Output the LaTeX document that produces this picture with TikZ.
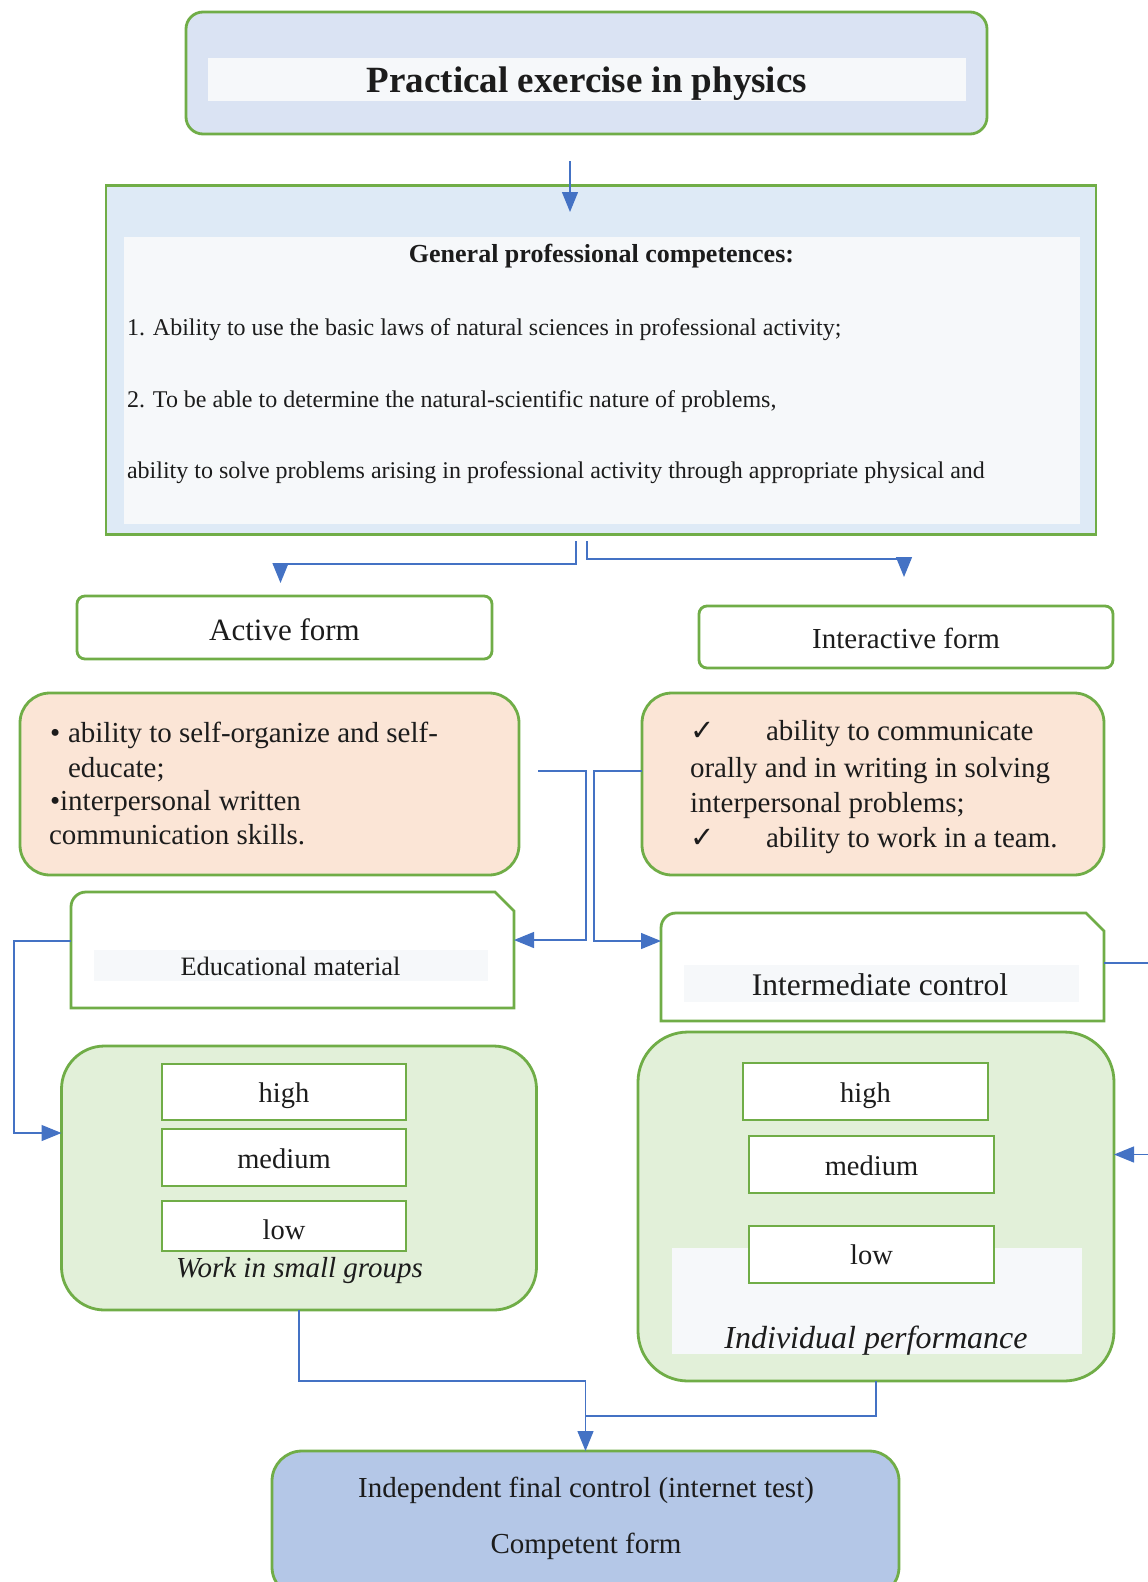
\documentclass[tikz,border=0pt]{standalone}
\usepackage{fontspec}
\setmainfont{Liberation Serif}
\newfontfamily\dejavu{DejaVu Sans}
\usetikzlibrary{arrows.meta,calc}
\definecolor{gborder}{HTML}{70AD47}
\definecolor{conn}{HTML}{4472C4}
\definecolor{topfill}{HTML}{DAE3F3}
\definecolor{genfill}{HTML}{DEEAF6}
\definecolor{stripc}{HTML}{F6F8FA}
\definecolor{pinkc}{HTML}{FBE5D6}
\definecolor{lgreen}{HTML}{E2F0D9}
\definecolor{finalfill}{HTML}{B4C7E7}
\definecolor{txt}{HTML}{1C1C1C}
\tikzset{
  gbox/.style={draw=gborder, line width=2.8pt, inner sep=0pt, outer sep=0pt},
  ghost/.style={inner sep=0pt, outer sep=0pt},
  conline/.style={draw=conn, line width=1.3pt},
  arr/.style={conline, -{Triangle[length=20pt,width=16pt]}},
  lvlbox/.style={gbox, fill=white, minimum height=56pt},
  tx/.style={inner sep=0pt, outer sep=0pt, text=txt},
  fsA/.style={tx, font=\fontsize{29}{34}\selectfont},
  chk/.style={tx, font=\dejavu\fontsize{29}{34}\selectfont},
}
\begin{document}
\begin{tikzpicture}[x=1pt,y=-1pt]
\useasboundingbox (0,0) rectangle (1148,1582);
\clip (0,0) rectangle (1148,1582);
\fill[white] (0,0) rectangle (1148,1582);

% top title box
\node[gbox, rounded corners=17pt, fill=topfill, minimum width=801pt, minimum height=122pt] (top) at (586.5,73) {};
\fill[stripc] (208,58) rectangle (966,101);
\node[tx, anchor=base, font=\bfseries\fontsize{37}{40}\selectfont] (titletxt) at (587,92) {Practical exercise in physics};

% general competences box
\node[gbox, fill=genfill, minimum width=990pt, minimum height=349pt] (gen) at (601,360) {};
\fill[stripc] (123.5,237) rectangle (1080,524);
\node[tx, anchor=base, font=\bfseries\fontsize{26}{30}\selectfont] (gph) at (601.5,262) {General professional competences:};
\node[tx, anchor=base west, font=\fontsize{24}{28}\selectfont] (gl1) at (127,335) {1. Ability to use the basic laws of natural sciences in professional activity;};
\node[tx, anchor=base west, font=\fontsize{24}{28}\selectfont] (gl2) at (127,407) {2. To be able to determine the natural-scientific nature of problems,};
\node[tx, anchor=base west, font=\fontsize{24}{28}\selectfont] (gl3) at (127,478) {ability to solve problems arising in professional activity through appropriate physical and};

% forms
\node[gbox, rounded corners=8pt, fill=white, minimum width=415pt, minimum height=63pt] (active) at (284.5,627.5) {};
\node[tx, anchor=base, font=\fontsize{31}{36}\selectfont] (activetxt) at (284.5,640) {Active form};
\node[gbox, rounded corners=8pt, fill=white, minimum width=414pt, minimum height=62pt] (interf) at (906,637) {};
\node[tx, anchor=base, font=\fontsize{29}{34}\selectfont] (interftxt) at (906,648) {Interactive form};

% pink boxes
\node[gbox, rounded corners=30pt, fill=pinkc, minimum width=499pt, minimum height=182pt] (lpink) at (269.5,784) {};
\node[fsA, anchor=base west] (lp1b) at (50,742) {•};
\node[fsA, anchor=base west] (lp1) at (68,742) {ability to self-organize and self-};
\node[fsA, anchor=base west] (lp2) at (68,777) {educate;};
\node[fsA, anchor=base west] (lp3) at (50,810) {•interpersonal written};
\node[fsA, anchor=base west] (lp4) at (49,844) {communication skills.};

\node[gbox, rounded corners=30pt, fill=pinkc, minimum width=462pt, minimum height=182pt] (rpink) at (873,784) {};
\node[chk, anchor=base west] (rp1c) at (690,740) {✓};
\node[fsA, anchor=base west] (rp1) at (766,740) {ability to communicate};
\node[fsA, anchor=base west] (rp2) at (690,777) {orally and in writing in solving};
\node[fsA, anchor=base west] (rp3) at (690,812) {interpersonal problems;};
\node[chk, anchor=base west] (rp4c) at (690,847) {✓};
\node[fsA, anchor=base west] (rp4) at (766,847) {ability to work in a team.};

% educational material (snip + round corner)
\node[ghost, minimum width=443pt, minimum height=116pt] (edu) at (292.5,950) {};
\draw[draw=gborder, line width=2.8pt, fill=white] (71,1008) -- (71,907) .. controls (71,898.7) and (77.7,892) .. (86,892) -- (495,892) -- (514,911) -- (514,1008) -- cycle;
\fill[stripc] (94,950) rectangle (488,981);
\node[tx, anchor=base, font=\fontsize{26.5}{30}\selectfont] (edutxt) at (290.5,975) {Educational material};

% intermediate control
\node[ghost, minimum width=443pt, minimum height=108pt] (interc) at (882.5,967) {};
\draw[draw=gborder, line width=2.8pt, fill=white] (661,1021) -- (661,928) .. controls (661,919.7) and (667.7,913) .. (676,913) -- (1086,913) -- (1104,931) -- (1104,1021) -- cycle;
\fill[stripc] (684,965) rectangle (1079,1002);
\node[tx, anchor=base, font=\fontsize{31.5}{36}\selectfont] (interctxt) at (880,995) {Intermediate control};

% left green box
\node[gbox, rounded corners=43pt, fill=lgreen, minimum width=475pt, minimum height=264pt] (g1) at (299,1178) {};
\node[lvlbox, minimum width=244pt, minimum height=56pt] (g1h) at (284,1092) {};
\node[lvlbox, minimum width=244pt, minimum height=57pt] (g1m) at (284,1157.5) {};
\node[lvlbox, minimum width=244pt, minimum height=50pt] (g1l) at (284,1226) {};
\node[tx, anchor=base, font=\fontsize{28.5}{34}\selectfont] (g1ht) at (284,1102) {high};
\node[tx, anchor=base, font=\fontsize{28.5}{34}\selectfont] (g1mt) at (284,1168) {medium};
\node[tx, anchor=base, font=\fontsize{28.5}{34}\selectfont] (g1lt) at (284,1239) {low};
\node[tx, anchor=base, font=\itshape\fontsize{29}{34}\selectfont] (g1cap) at (299.5,1277) {Work in small groups};

% right green box
\node[gbox, rounded corners=50pt, fill=lgreen, minimum width=476pt, minimum height=349pt] (g2) at (876,1206.5) {};
\fill[stripc] (672,1248) rectangle (1082,1354);
\node[lvlbox, minimum width=245pt, minimum height=57pt] (g2h) at (865.5,1091.5) {};
\node[lvlbox, minimum width=245pt, minimum height=57pt] (g2m) at (871.5,1164.5) {};
\node[lvlbox, minimum width=245pt, minimum height=57pt] (g2l) at (871.5,1254.5) {};
\node[tx, anchor=base, font=\fontsize{28.5}{34}\selectfont] (g2ht) at (865.5,1102) {high};
\node[tx, anchor=base, font=\fontsize{28.5}{34}\selectfont] (g2mt) at (871.5,1175) {medium};
\node[tx, anchor=base, font=\fontsize{28.5}{34}\selectfont] (g2lt) at (871.5,1264) {low};
\begin{scope}
\clip (672,1248) rectangle (1082,1354);
\node[tx, anchor=base, font=\itshape\fontsize{32}{36}\selectfont] (g2cap) at (876,1348) {Individual performance};
\end{scope}

% final box
\node[gbox, rounded corners=30pt, fill=finalfill, minimum width=627pt, minimum height=146pt] (final) at (585.5,1524) {};
\node[fsA, anchor=base] (fin1) at (586,1497) {Independent final control (internet test)};
\node[fsA, anchor=base] (fin2) at (586,1553) {Competent form};

% connectors
\coordinate (a0s) at (570,161);
\coordinate (a0e) at (570,212);
\draw[arr] (a0s) -- (a0e);

\coordinate (cL) at (576,541);
\coordinate (cR) at (587,541);
\draw[arr] (cL) -- ++(0,23) -| ([shift={(-4,-13)}]active.north);
\draw[arr] (cR) -- ++(0,18) -| ([shift={(-2,-29)}]interf.north);

\coordinate (pL) at (538,771);
\draw[arr] (pL) -| ([shift={(72,-10)}]edu.east) -- ([shift={(0,-10)}]edu.east);
\draw[arr] ([shift={(0,-13)}]rpink.west) -- ++(-48,0) |- ([shift={(0,-26)}]interc.west);

\draw[arr] ([shift={(0,-9)}]edu.west) -- ++(-57,0) |- ([shift={(0,-45)}]g1.west);
\draw[arr] ([shift={(0,-4)}]interc.east) -- ++(60,0) |- ([shift={(0,-52)}]g2.east);

\draw[arr] (g1.south) -- ++(0,71) -| (final.north);
\draw[conline] (g2.south) |- ([shift={(0,-35)}]final.north);
\end{tikzpicture}
\end{document}
